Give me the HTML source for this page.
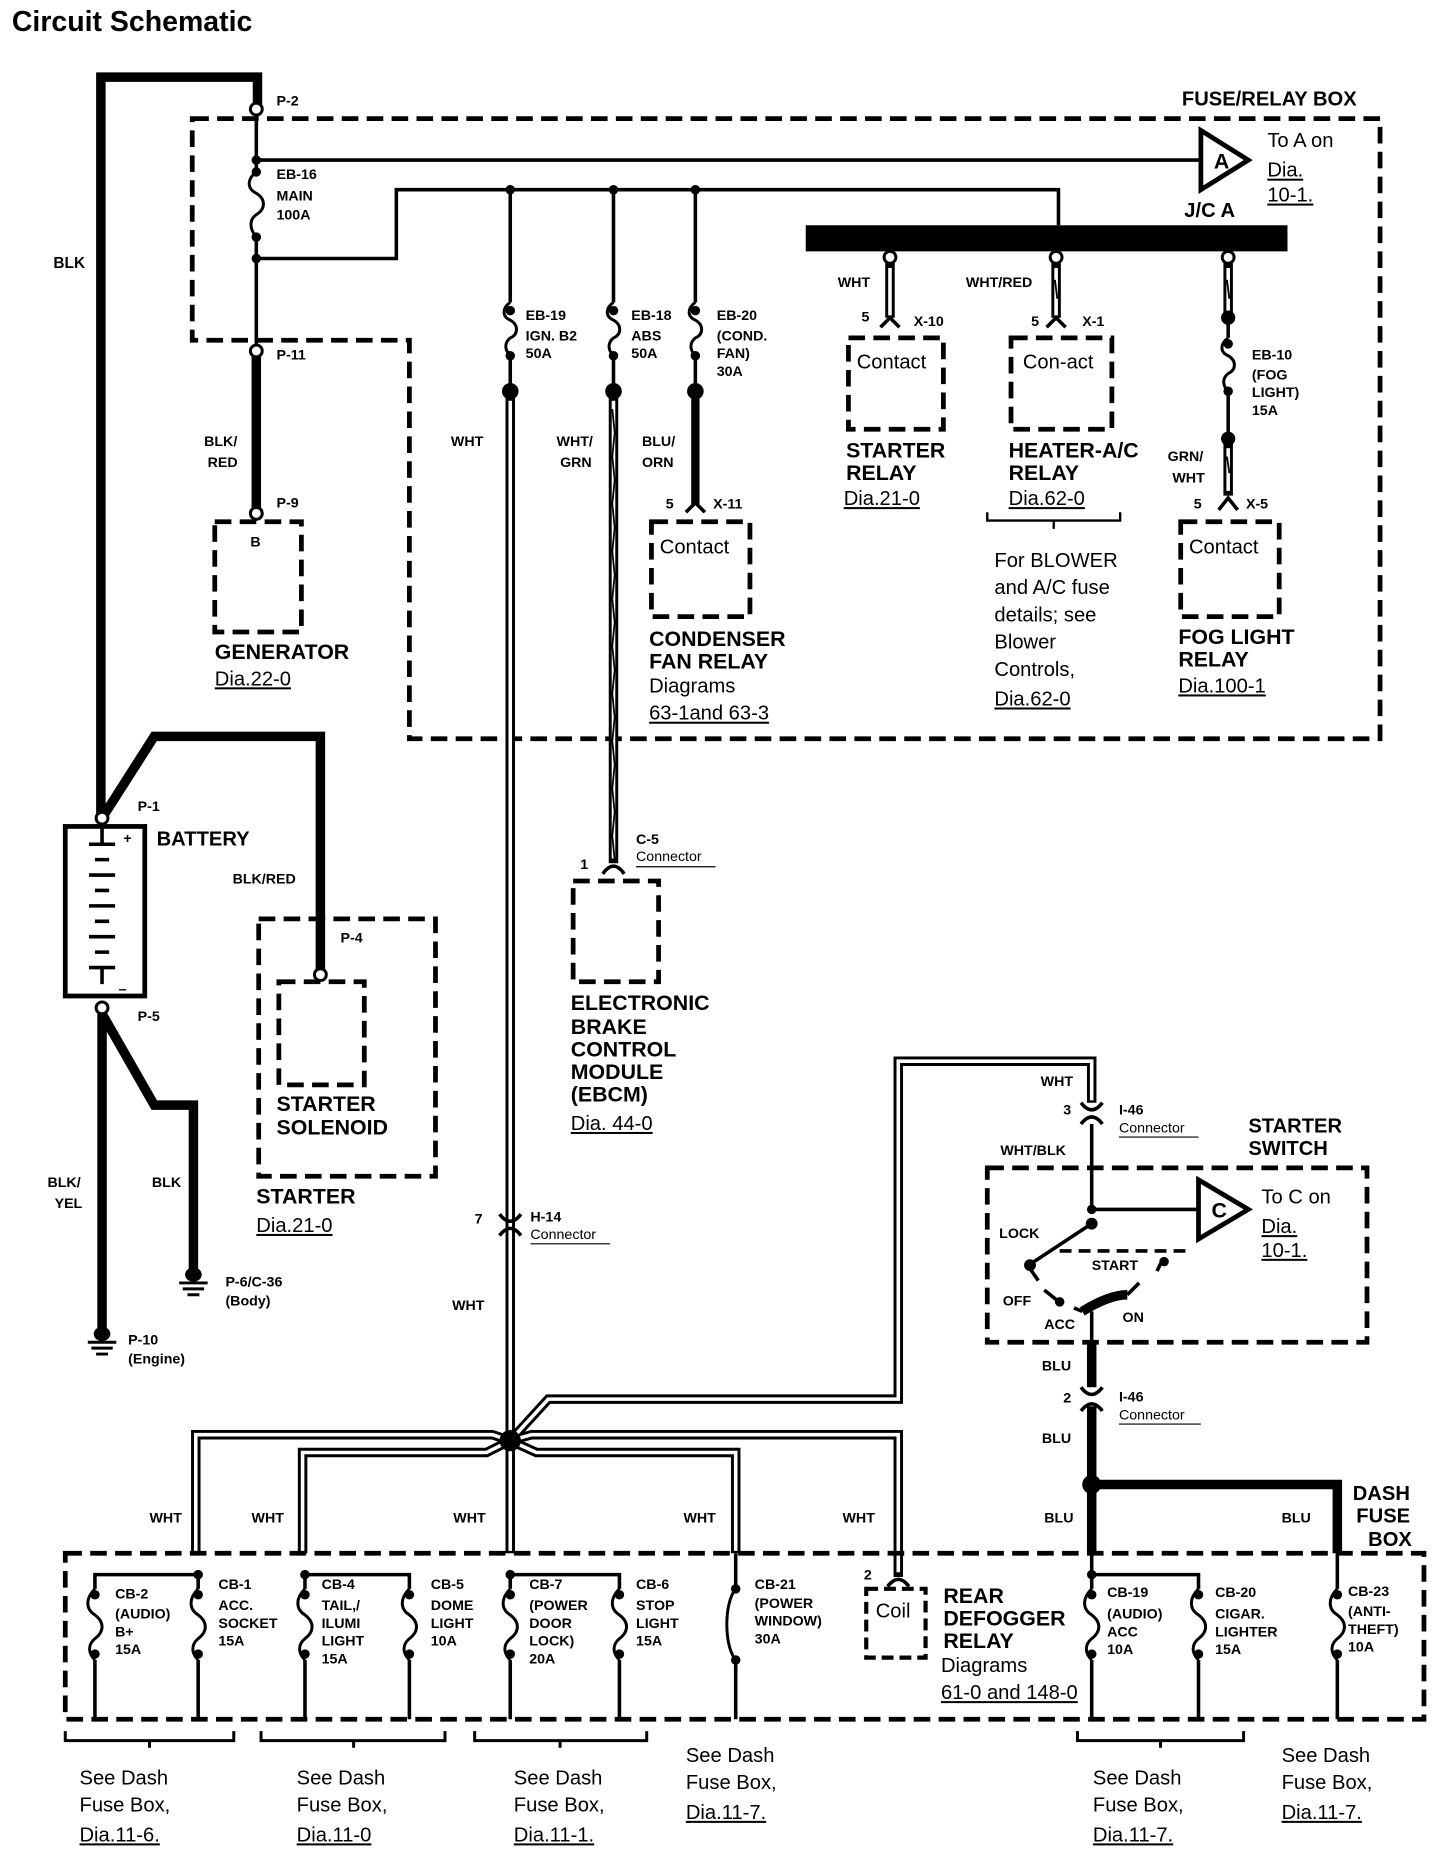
<!DOCTYPE html>
<html><head><meta charset="utf-8"><style>
html,body{margin:0;padding:0;background:#fff}
svg{display:block}
text{font-family:"Liberation Sans",Arial,sans-serif;fill:#000}
.b{font-weight:bold;font-size:13px}
.s{font-weight:bold;font-size:12px}
.L{font-weight:bold;font-size:18px}
.n{font-size:17px}
.u{text-decoration:underline}
.d{fill:none;stroke:#000;stroke-width:4;stroke-dasharray:14 7}
.w{fill:none;stroke:#000;stroke-width:3}
.t{fill:none;stroke:#000;stroke-width:8}
.f{fill:none;stroke:#000;stroke-width:2.5}
</style></head><body>
<svg width="1456" height="1858" viewBox="0 0 1227 1567" preserveAspectRatio="none" xmlns="http://www.w3.org/2000/svg">
<text x="10" y="26" style="font-weight:bold;font-size:24px">Circuit Schematic</text>

<path class="d" d="M162,100 H1163 V623 H345 V287 H162 Z"/>
<text x="996" y="89" class="L" style="font-size:17px">FUSE/RELAY BOX</text>

<path class="t" d="M85,690 V65 H217 V88"/>
<circle cx="216" cy="92" r="5" fill="#fff" stroke="#000" stroke-width="2.5"/>
<text x="233" y="89" class="s">P-2</text>
<text x="45" y="226" class="b">BLK</text>
<path class="w" d="M216,97 V145 M216,200 V291"/>
<path class="f" d="M216,145 c-8,6 -8,14 0,18 c8,5 8,13 0,18 c-6,4 -6,12 0,19"/>
<circle cx="216" cy="135" r="4"/><circle cx="216" cy="145" r="4"/><circle cx="216" cy="200" r="4"/><circle cx="216" cy="218" r="4"/>
<text x="233" y="151" class="s">EB-16</text><text x="233" y="169" class="s">MAIN</text><text x="233" y="185" class="s">100A</text>
<path class="w" d="M216,135 H1012"/>
<path d="M1012,110 L1052,135 L1012,160 Z" fill="#fff" stroke="#000" stroke-width="4"/>
<text x="1023" y="142" class="L">A</text>
<text x="1068" y="124" class="n">To A on</text>
<text x="1068" y="149" class="n u">Dia.</text>
<text x="1068" y="170" class="n u">10-1.</text>
<text x="998" y="183" class="L" style="font-size:17px">J/C A</text>
<path class="w" d="M216,218 H334 V160 H892 V190"/>
<circle cx="430" cy="160" r="4"/><circle cx="517" cy="160" r="4"/><circle cx="586" cy="160" r="4"/>
<rect x="679" y="190" width="406" height="22"/>

<circle cx="216" cy="296" r="5" fill="#fff" stroke="#000" stroke-width="2.5"/>
<text x="233" y="303" class="s">P-11</text>
<path class="t" d="M216,301 V428"/>
<circle cx="216" cy="433" r="5" fill="#fff" stroke="#000" stroke-width="2.5"/>
<text x="233" y="428" class="s">P-9</text>
<text x="172" y="376" class="s">BLK/</text><text x="175" y="394" class="s">RED</text>
<path class="d" d="M181,440 H254 V533 H181 Z"/>
<text x="211" y="461" class="s">B</text>
<text x="181" y="556" class="L">GENERATOR</text>
<text x="181" y="578" class="n u">Dia.22-0</text>

<path class="w" d="M430,160 V255 M430,300 V330"/>
<path class="f" d="M430,255 c-7,5 -7,12 0,15 c7,4 7,12 0,15 c-5,4 -5,10 0,15"/>
<circle cx="430" cy="262" r="4"/><circle cx="430" cy="300" r="4"/><circle cx="430" cy="330" r="7"/>
<text x="443" y="270" class="s">EB-19</text><text x="443" y="287" class="s">IGN. B2</text><text x="443" y="302" class="s">50A</text>
<path class="w" d="M517,160 V255 M517,300 V330"/>
<path class="f" d="M517,255 c-7,5 -7,12 0,15 c7,4 7,12 0,15 c-5,4 -5,10 0,15"/>
<circle cx="517" cy="262" r="4"/><circle cx="517" cy="300" r="4"/><circle cx="517" cy="330" r="7"/>
<text x="532" y="270" class="s">EB-18</text><text x="532" y="287" class="s">ABS</text><text x="532" y="302" class="s">50A</text>
<path class="w" d="M586,160 V255 M586,300 V330"/>
<path class="f" d="M586,255 c-7,5 -7,12 0,15 c7,4 7,12 0,15 c-5,4 -5,10 0,15"/>
<circle cx="586" cy="262" r="4"/><circle cx="586" cy="300" r="4"/><circle cx="586" cy="330" r="7"/>
<text x="604" y="270" class="s">EB-20</text><text x="604" y="287" class="s">(COND.</text><text x="604" y="302" class="s">FAN)</text><text x="604" y="317" class="s">30A</text>
<path class="t" d="M586,330 V425" style="stroke-width:7"/>
<path class="w" d="M578,432 L586,424 L594,432"/>
<text x="380" y="376" class="s">WHT</text>
<text x="469" y="376" class="s">WHT/</text><text x="472" y="394" class="s">GRN</text>
<text x="541" y="376" class="s">BLU/</text><text x="541" y="394" class="s">ORN</text>
<text x="561" y="429" class="s">5</text><text x="601" y="429" class="s">X-11</text>
<path class="d" d="M549,440 H632 V520 H549 Z"/>
<text x="556" y="467" class="n">Contact</text>
<text x="547" y="545" class="L">CONDENSER</text>
<text x="547" y="564" class="L">FAN RELAY</text>
<text x="547" y="584" class="n">Diagrams</text>
<text x="547" y="607" class="n u">63-1and 63-3</text>

<path d="M430,330 V1215" stroke="#000" stroke-width="8" fill="none"/>
<path d="M430,338 V1210" stroke="#fff" stroke-width="3" fill="none"/>
<path d="M517,330 V728" stroke="#000" stroke-width="8" fill="none"/>
<path d="M517,338 V724" stroke="#fff" stroke-width="3" fill="none"/>
<path d="M516,345 l2,20 l-2,20 l2,20 l-2,20 l2,20 l-2,20 l2,20 l-2,20 l2,20 l-2,20 l2,20 l-2,20 l2,20 l-2,20 l2,20 l-2,20 l2,20 l-2,20 l2,20" stroke="#000" stroke-width="1.5" fill="none"/>
<path class="w" d="M508,737 Q517,724 526,737"/>
<text x="489" y="733" class="s">1</text>
<text x="536" y="712" class="s">C-5</text><text x="536" y="726" style="font-size:12px">Connector</text>
<path d="M536,731 H603" stroke="#000" stroke-width="1"/>
<path class="d" d="M483,743 H555 V828 H483 Z"/>
<text x="481" y="852" class="L">ELECTRONIC</text>
<text x="481" y="872" class="L">BRAKE</text>
<text x="481" y="891" class="L">CONTROL</text>
<text x="481" y="910" class="L">MODULE</text>
<text x="481" y="929" class="L">(EBCM)</text>
<text x="481" y="953" class="n u">Dia. 44-0</text>

<g>
<circle cx="750" cy="217" r="5" fill="#fff" stroke="#000" stroke-width="2.5"/>
<path d="M750,222 V268" stroke="#000" stroke-width="8"/><path d="M750,226 V266" stroke="#fff" stroke-width="3"/>
<path class="w" d="M742,276 L750,268 L758,276"/>
<text x="706" y="242" class="s">WHT</text>
<text x="726" y="271" class="s">5</text><text x="770" y="275" class="s">X-10</text>
<path class="d" d="M715,285 H795 V362 H715 Z"/>
<text x="722" y="311" class="n">Contact</text>
<text x="713" y="386" class="L">STARTER</text>
<text x="713" y="405" class="L">RELAY</text>
<text x="711" y="426" class="n u">Dia.21-0</text>

<circle cx="890" cy="217" r="5" fill="#fff" stroke="#000" stroke-width="2.5"/>
<path d="M890,222 V268" stroke="#000" stroke-width="8"/><path d="M890,226 V266" stroke="#fff" stroke-width="3"/>
<path d="M889,236 l2,16" stroke="#000" stroke-width="1.5"/>
<path class="w" d="M882,276 L890,268 L898,276"/>
<text x="814" y="242" class="s">WHT/RED</text>
<text x="869" y="275" class="s">5</text><text x="912" y="275" class="s">X-1</text>
<path class="d" d="M852,285 H937 V362 H852 Z"/>
<text x="862" y="311" class="n">Con-act</text>
<text x="850" y="386" class="L">HEATER-A/C</text>
<text x="850" y="405" class="L">RELAY</text>
<text x="850" y="426" class="n u">Dia.62-0</text>
<path class="w" style="stroke-width:2" d="M832,432 V439 H944 V432 M888,439 V446"/>
<text x="838" y="478" class="n">For BLOWER</text>
<text x="838" y="501" class="n">and A/C fuse</text>
<text x="838" y="524" class="n">details; see</text>
<text x="838" y="547" class="n">Blower</text>
<text x="838" y="570" class="n">Controls,</text>
<text x="838" y="595" class="n u">Dia.62-0</text>

<circle cx="1035" cy="217" r="5" fill="#fff" stroke="#000" stroke-width="2.5"/>
<path d="M1035,222 V265" stroke="#000" stroke-width="8"/><path d="M1035,226 V262" stroke="#fff" stroke-width="3"/>
<path d="M1034,236 l2,16" stroke="#000" stroke-width="1.5"/>
<circle cx="1035" cy="268" r="6"/>
<path class="w" d="M1035,268 V285 M1035,330 V370"/>
<path class="f" d="M1035,285 c-7,5 -7,12 0,15 c7,4 7,12 0,15 c-5,4 -5,10 0,15"/>
<circle cx="1035" cy="290" r="4"/><circle cx="1035" cy="330" r="4"/><circle cx="1035" cy="370" r="6"/>
<text x="1055" y="303" class="s">EB-10</text><text x="1055" y="320" class="s">(FOG</text><text x="1055" y="335" class="s">LIGHT)</text><text x="1055" y="350" class="s">15A</text>
<path d="M1035,370 V418" stroke="#000" stroke-width="8"/><path d="M1035,378 V414" stroke="#fff" stroke-width="3"/>
<path d="M1034,385 l2,14" stroke="#000" stroke-width="1.5"/>
<path class="w" d="M1027,430 L1035,420 L1043,430"/>
<text x="984" y="389" class="s">GRN/</text><text x="988" y="407" class="s">WHT</text>
<text x="1006" y="429" class="s">5</text><text x="1050" y="429" class="s">X-5</text>
<path class="d" d="M995,440 H1078 V520 H995 Z"/>
<text x="1002" y="467" class="n">Contact</text>
<text x="993" y="543" class="L">FOG LIGHT</text>
<text x="993" y="562" class="L">RELAY</text>
<text x="993" y="584" class="n u">Dia.100-1</text>
</g>

<path class="t" d="M86,690 L130,621 H270 V818"/>
<circle cx="86" cy="690" r="5" fill="#fff" stroke="#000" stroke-width="2.5"/>
<circle cx="270" cy="822" r="5" fill="#fff" stroke="#000" stroke-width="2.5"/>
<text x="116" y="684" class="s">P-1</text>
<text x="132" y="713" class="L" style="font-size:17px">BATTERY</text>
<rect x="55" y="697" width="67" height="143" fill="#fff" stroke="#000" stroke-width="4"/>
<path d="M86,697 V712 M75,712 H97 M80,725 H92 M75,738 H97 M80,751 H92 M75,764 H97 M80,777 H92 M75,790 H97 M80,803 H92 M75,816 H97 M86,816 V830" stroke="#000" stroke-width="3"/>
<text x="104" y="711" class="s">+</text><text x="100" y="838" class="s">–</text>
<circle cx="86" cy="850" r="5" fill="#fff" stroke="#000" stroke-width="2.5"/>
<text x="116" y="861" class="s">P-5</text>
<text x="196" y="745" class="s">BLK/RED</text>
<text x="287" y="795" class="s">P-4</text>
<path class="t" d="M86,855 V1120"/>
<path class="t" d="M86,855 L130,932 H163 V1070"/>
<ellipse cx="163" cy="1075" rx="7" ry="6"/><path d="M151,1082 H175 M154,1087 H172 M158,1092 H168" stroke="#000" stroke-width="2.5"/>
<ellipse cx="86" cy="1125" rx="7" ry="6"/><path d="M74,1132 H98 M77,1137 H95 M81,1142 H91" stroke="#000" stroke-width="2.5"/>
<text x="40" y="1001" class="s">BLK/</text><text x="46" y="1019" class="s">YEL</text>
<text x="128" y="1001" class="s">BLK</text>
<text x="190" y="1085" class="s">P-6/C-36</text><text x="190" y="1101" class="s">(Body)</text>
<text x="108" y="1134" class="s">P-10</text><text x="108" y="1150" class="s">(Engine)</text>

<path class="d" d="M218,775 H367 V992 H218 Z"/>
<path class="d" d="M235,828 H307 V915 H235 Z"/>
<text x="233" y="937" class="L">STARTER</text>
<text x="233" y="957" class="L">SOLENOID</text>
<text x="216" y="1015" class="L">STARTER</text>
<text x="216" y="1039" class="n u">Dia.21-0</text>

<path class="w" d="M421,1024 Q430,1036 439,1024 M421,1042 Q430,1030 439,1042"/>
<text x="400" y="1032" class="s">7</text>
<text x="447" y="1030" class="s">H-14</text><text x="447" y="1045" style="font-size:12px">Connector</text>
<path d="M447,1049 H514" stroke="#000" stroke-width="1"/>
<text x="381" y="1105" class="s">WHT</text>

<g fill="none" stroke="#000" stroke-width="8" stroke-linejoin="miter">
<path d="M430,1215 L415,1210 H165 V1310"/>
<path d="M430,1215 L410,1225 H255 V1310"/>
<path d="M430,1215 V1310"/>
<path d="M430,1215 L452,1225 H620 V1310"/>
<path d="M430,1215 L448,1210 H757 V1330"/>
<path d="M430,1215 L462,1180 H757 V895 H920 V930"/>
</g>
<g fill="none" stroke="#fff" stroke-width="3" stroke-linejoin="miter">
<path d="M430,1215 L415,1210 H165 V1310"/>
<path d="M430,1215 L410,1225 H255 V1310"/>
<path d="M430,1215 V1308"/>
<path d="M430,1215 L452,1225 H620 V1308"/>
<path d="M430,1215 L448,1210 H757 V1326"/>
<path d="M430,1215 L462,1180 H757 V895 H920 V928"/>
</g>
<circle cx="430" cy="1215" r="9"/>
<text x="126" y="1284" class="s">WHT</text><text x="212" y="1284" class="s">WHT</text>
<text x="382" y="1284" class="s">WHT</text><text x="576" y="1284" class="s">WHT</text><text x="710" y="1284" class="s">WHT</text>
<text x="877" y="916" class="s">WHT</text>

<path class="w" d="M911,930 Q920,942 929,930 M911,948 Q920,936 929,948"/>
<text x="896" y="940" class="s">3</text>
<text x="943" y="940" class="s">I-46</text><text x="943" y="955" style="font-size:12px">Connector</text>
<path d="M943,959 H1010" stroke="#000" stroke-width="1"/>
<text x="843" y="974" class="s">WHT/BLK</text>
<text x="1052" y="955" class="L" style="font-size:17px">STARTER</text>
<text x="1052" y="974" class="L" style="font-size:17px">SWITCH</text>
<path class="w" d="M920,948 V1020"/>
<path class="d" d="M832,985 H1152 V1132 H832 Z"/>
<path class="w" d="M920,1020 H1010"/>
<circle cx="920" cy="1020" r="4"/><circle cx="920" cy="1032" r="5"/>
<path d="M1010,995 L1052,1020 L1010,1045 Z" fill="#fff" stroke="#000" stroke-width="4"/>
<text x="1021" y="1027" class="L">C</text>
<text x="1063" y="1015" class="n">To C on</text>
<text x="1063" y="1040" class="n u">Dia.</text>
<text x="1063" y="1060" class="n u">10-1.</text>
<text x="842" y="1044" class="s">LOCK</text>
<path class="w" d="M920,1032 L870,1065"/>
<path d="M893,1055 H1000" stroke="#000" stroke-width="3" stroke-dasharray="10 6"/>
<circle cx="868" cy="1067" r="5"/>
<path class="w" d="M868,1070 L875,1080 M880,1088 L895,1100 M905,1103 L912,1106"/>
<circle cx="893" cy="1098" r="4"/>
<path d="M912,1106 Q935,1092 950,1092" stroke="#000" stroke-width="8" fill="none"/>
<path class="w" d="M950,1092 L960,1082 M975,1072 L980,1062"/>
<circle cx="981" cy="1064" r="4"/>
<text x="920" y="1071" class="s">START</text>
<text x="845" y="1101" class="s">OFF</text>
<text x="880" y="1121" class="s">ACC</text>
<text x="946" y="1115" class="s">ON</text>
<path class="w" d="M920,1106 V1132"/>
<path class="t" d="M920,1132 V1170 M920,1186 V1310"/>
<path class="w" d="M911,1170 Q920,1182 929,1170 M911,1190 Q920,1178 929,1190"/>
<text x="878" y="1156" class="s">BLU</text>
<text x="896" y="1183" class="s">2</text>
<text x="943" y="1182" class="s">I-46</text><text x="943" y="1197" style="font-size:12px">Connector</text>
<path d="M943,1201 H1012" stroke="#000" stroke-width="1"/>
<text x="878" y="1217" class="s">BLU</text>
<circle cx="920" cy="1252" r="8"/>
<path class="t" d="M920,1252 H1127 V1310"/>
<text x="880" y="1284" class="s">BLU</text><text x="1080" y="1284" class="s">BLU</text>
<text x="1140" y="1265" class="L" style="font-size:17px">DASH</text>
<text x="1143" y="1284" class="L" style="font-size:17px">FUSE</text>
<text x="1153" y="1304" class="L" style="font-size:17px">BOX</text>

<path class="d" d="M55,1310 H1200 V1450 H55 Z"/>
<g class="w">
<path d="M80,1450 V1400 M80,1340 V1328 H167 V1340 M167,1400 V1450"/>
<path d="M257,1450 V1400 M257,1340 V1328 H345 V1340 M345,1400 V1450"/>
<path d="M430,1450 V1400 M430,1340 V1328 H522 V1340 M522,1400 V1450"/>
<path d="M620,1450 V1400 M620,1310 V1340"/>
<path d="M920,1450 V1400 M920,1310 V1340 M920,1328 H1010 V1340 M1010,1400 V1450"/>
<path d="M1127,1450 V1400 M1127,1310 V1340"/>
</g>
<g class="f">
<path d="M80,1340 c-8,8 -8,17 0,22 c8,6 8,14 0,20 c-6,5 -6,12 0,18"/>
<path d="M167,1340 c-8,8 -8,17 0,22 c8,6 8,14 0,20 c-6,5 -6,12 0,18"/>
<path d="M257,1340 c-8,8 -8,17 0,22 c8,6 8,14 0,20 c-6,5 -6,12 0,18"/>
<path d="M345,1340 c-8,8 -8,17 0,22 c8,6 8,14 0,20 c-6,5 -6,12 0,18"/>
<path d="M430,1340 c-8,8 -8,17 0,22 c8,6 8,14 0,20 c-6,5 -6,12 0,18"/>
<path d="M522,1340 c-8,8 -8,17 0,22 c8,6 8,14 0,20 c-6,5 -6,12 0,18"/>
<path d="M620,1340 c-10,12 -10,48 0,60"/>
<path d="M920,1340 c-8,8 -8,17 0,22 c8,6 8,14 0,20 c-6,5 -6,12 0,18"/>
<path d="M1010,1340 c-8,8 -8,17 0,22 c8,6 8,14 0,20 c-6,5 -6,12 0,18"/>
<path d="M1127,1340 c-8,8 -8,17 0,22 c8,6 8,14 0,20 c-6,5 -6,12 0,18"/>
</g>
<g>
<circle cx="80" cy="1345" r="4"/><circle cx="80" cy="1395" r="4"/>
<circle cx="167" cy="1328" r="4"/><circle cx="167" cy="1345" r="4"/><circle cx="167" cy="1395" r="4"/>
<circle cx="257" cy="1328" r="4"/><circle cx="257" cy="1345" r="4"/><circle cx="257" cy="1395" r="4"/>
<circle cx="345" cy="1345" r="4"/><circle cx="345" cy="1395" r="4"/>
<circle cx="430" cy="1328" r="4"/><circle cx="430" cy="1345" r="4"/><circle cx="430" cy="1395" r="4"/>
<circle cx="522" cy="1345" r="4"/><circle cx="522" cy="1395" r="4"/>
<circle cx="620" cy="1340" r="4"/><circle cx="620" cy="1400" r="4"/>
<circle cx="920" cy="1328" r="4"/><circle cx="920" cy="1345" r="4"/><circle cx="920" cy="1395" r="4"/>
<circle cx="1010" cy="1345" r="4"/><circle cx="1010" cy="1395" r="4"/>
<circle cx="1127" cy="1345" r="4"/><circle cx="1127" cy="1395" r="4"/>
</g>
<g class="s">
<text x="97" y="1348">CB-2</text><text x="97" y="1365">(AUDIO)</text><text x="97" y="1380">B+</text><text x="97" y="1395">15A</text>
<text x="184" y="1340">CB-1</text><text x="184" y="1358">ACC.</text><text x="184" y="1373">SOCKET</text><text x="184" y="1388">15A</text>
<text x="271" y="1340">CB-4</text><text x="271" y="1358">TAIL,/</text><text x="271" y="1373">ILUMI</text><text x="271" y="1388">LIGHT</text><text x="271" y="1403">15A</text>
<text x="363" y="1340">CB-5</text><text x="363" y="1358">DOME</text><text x="363" y="1373">LIGHT</text><text x="363" y="1388">10A</text>
<text x="446" y="1340">CB-7</text><text x="446" y="1358">(POWER</text><text x="446" y="1373">DOOR</text><text x="446" y="1388">LOCK)</text><text x="446" y="1403">20A</text>
<text x="536" y="1340">CB-6</text><text x="536" y="1358">STOP</text><text x="536" y="1373">LIGHT</text><text x="536" y="1388">15A</text>
<text x="636" y="1340">CB-21</text><text x="636" y="1356">(POWER</text><text x="636" y="1371">WINDOW)</text><text x="636" y="1386">30A</text>
<text x="933" y="1347">CB-19</text><text x="933" y="1365">(AUDIO)</text><text x="933" y="1380">ACC</text><text x="933" y="1395">10A</text>
<text x="1024" y="1347">CB-20</text><text x="1024" y="1365">CIGAR.</text><text x="1024" y="1380">LIGHTER</text><text x="1024" y="1395">15A</text>
<text x="1136" y="1346">CB-23</text><text x="1136" y="1363">(ANTI-</text><text x="1136" y="1378">THEFT)</text><text x="1136" y="1393">10A</text>
</g>
<path class="w" d="M748,1338 Q757,1326 766,1338"/>
<text x="728" y="1332" class="s">2</text>
<path class="d" style="stroke-width:3.5;stroke-dasharray:10 5" d="M730,1340 H780 V1398 H730 Z"/>
<text x="738" y="1364" class="n">Coil</text>
<text x="795" y="1352" class="L">REAR</text>
<text x="795" y="1371" class="L">DEFOGGER</text>
<text x="795" y="1390" class="L">RELAY</text>
<text x="793" y="1410" class="n">Diagrams</text>
<text x="793" y="1433" class="n u">61-0 and 148-0</text>

<g class="w" style="stroke-width:2.5">
<path d="M55,1460 V1468 H197 V1460 M126,1468 V1474"/>
<path d="M220,1460 V1468 H375 V1460 M298,1468 V1474"/>
<path d="M400,1460 V1468 H545 V1460 M472,1468 V1474"/>
<path d="M908,1460 V1468 H1048 V1460 M978,1468 V1474"/>
</g>
<g class="n">
<text x="67" y="1505">See Dash</text><text x="67" y="1528">Fuse Box,</text><text x="67" y="1553" class="u">Dia.11-6.</text>
<text x="250" y="1505">See Dash</text><text x="250" y="1528">Fuse Box,</text><text x="250" y="1553" class="u">Dia.11-0</text>
<text x="433" y="1505">See Dash</text><text x="433" y="1528">Fuse Box,</text><text x="433" y="1553" class="u">Dia.11-1.</text>
<text x="578" y="1486">See Dash</text><text x="578" y="1509">Fuse Box,</text><text x="578" y="1534" class="u">Dia.11-7.</text>
<text x="921" y="1505">See Dash</text><text x="921" y="1528">Fuse Box,</text><text x="921" y="1553" class="u">Dia.11-7.</text>
<text x="1080" y="1486">See Dash</text><text x="1080" y="1509">Fuse Box,</text><text x="1080" y="1534" class="u">Dia.11-7.</text>
</g>
</svg>
</body></html>
